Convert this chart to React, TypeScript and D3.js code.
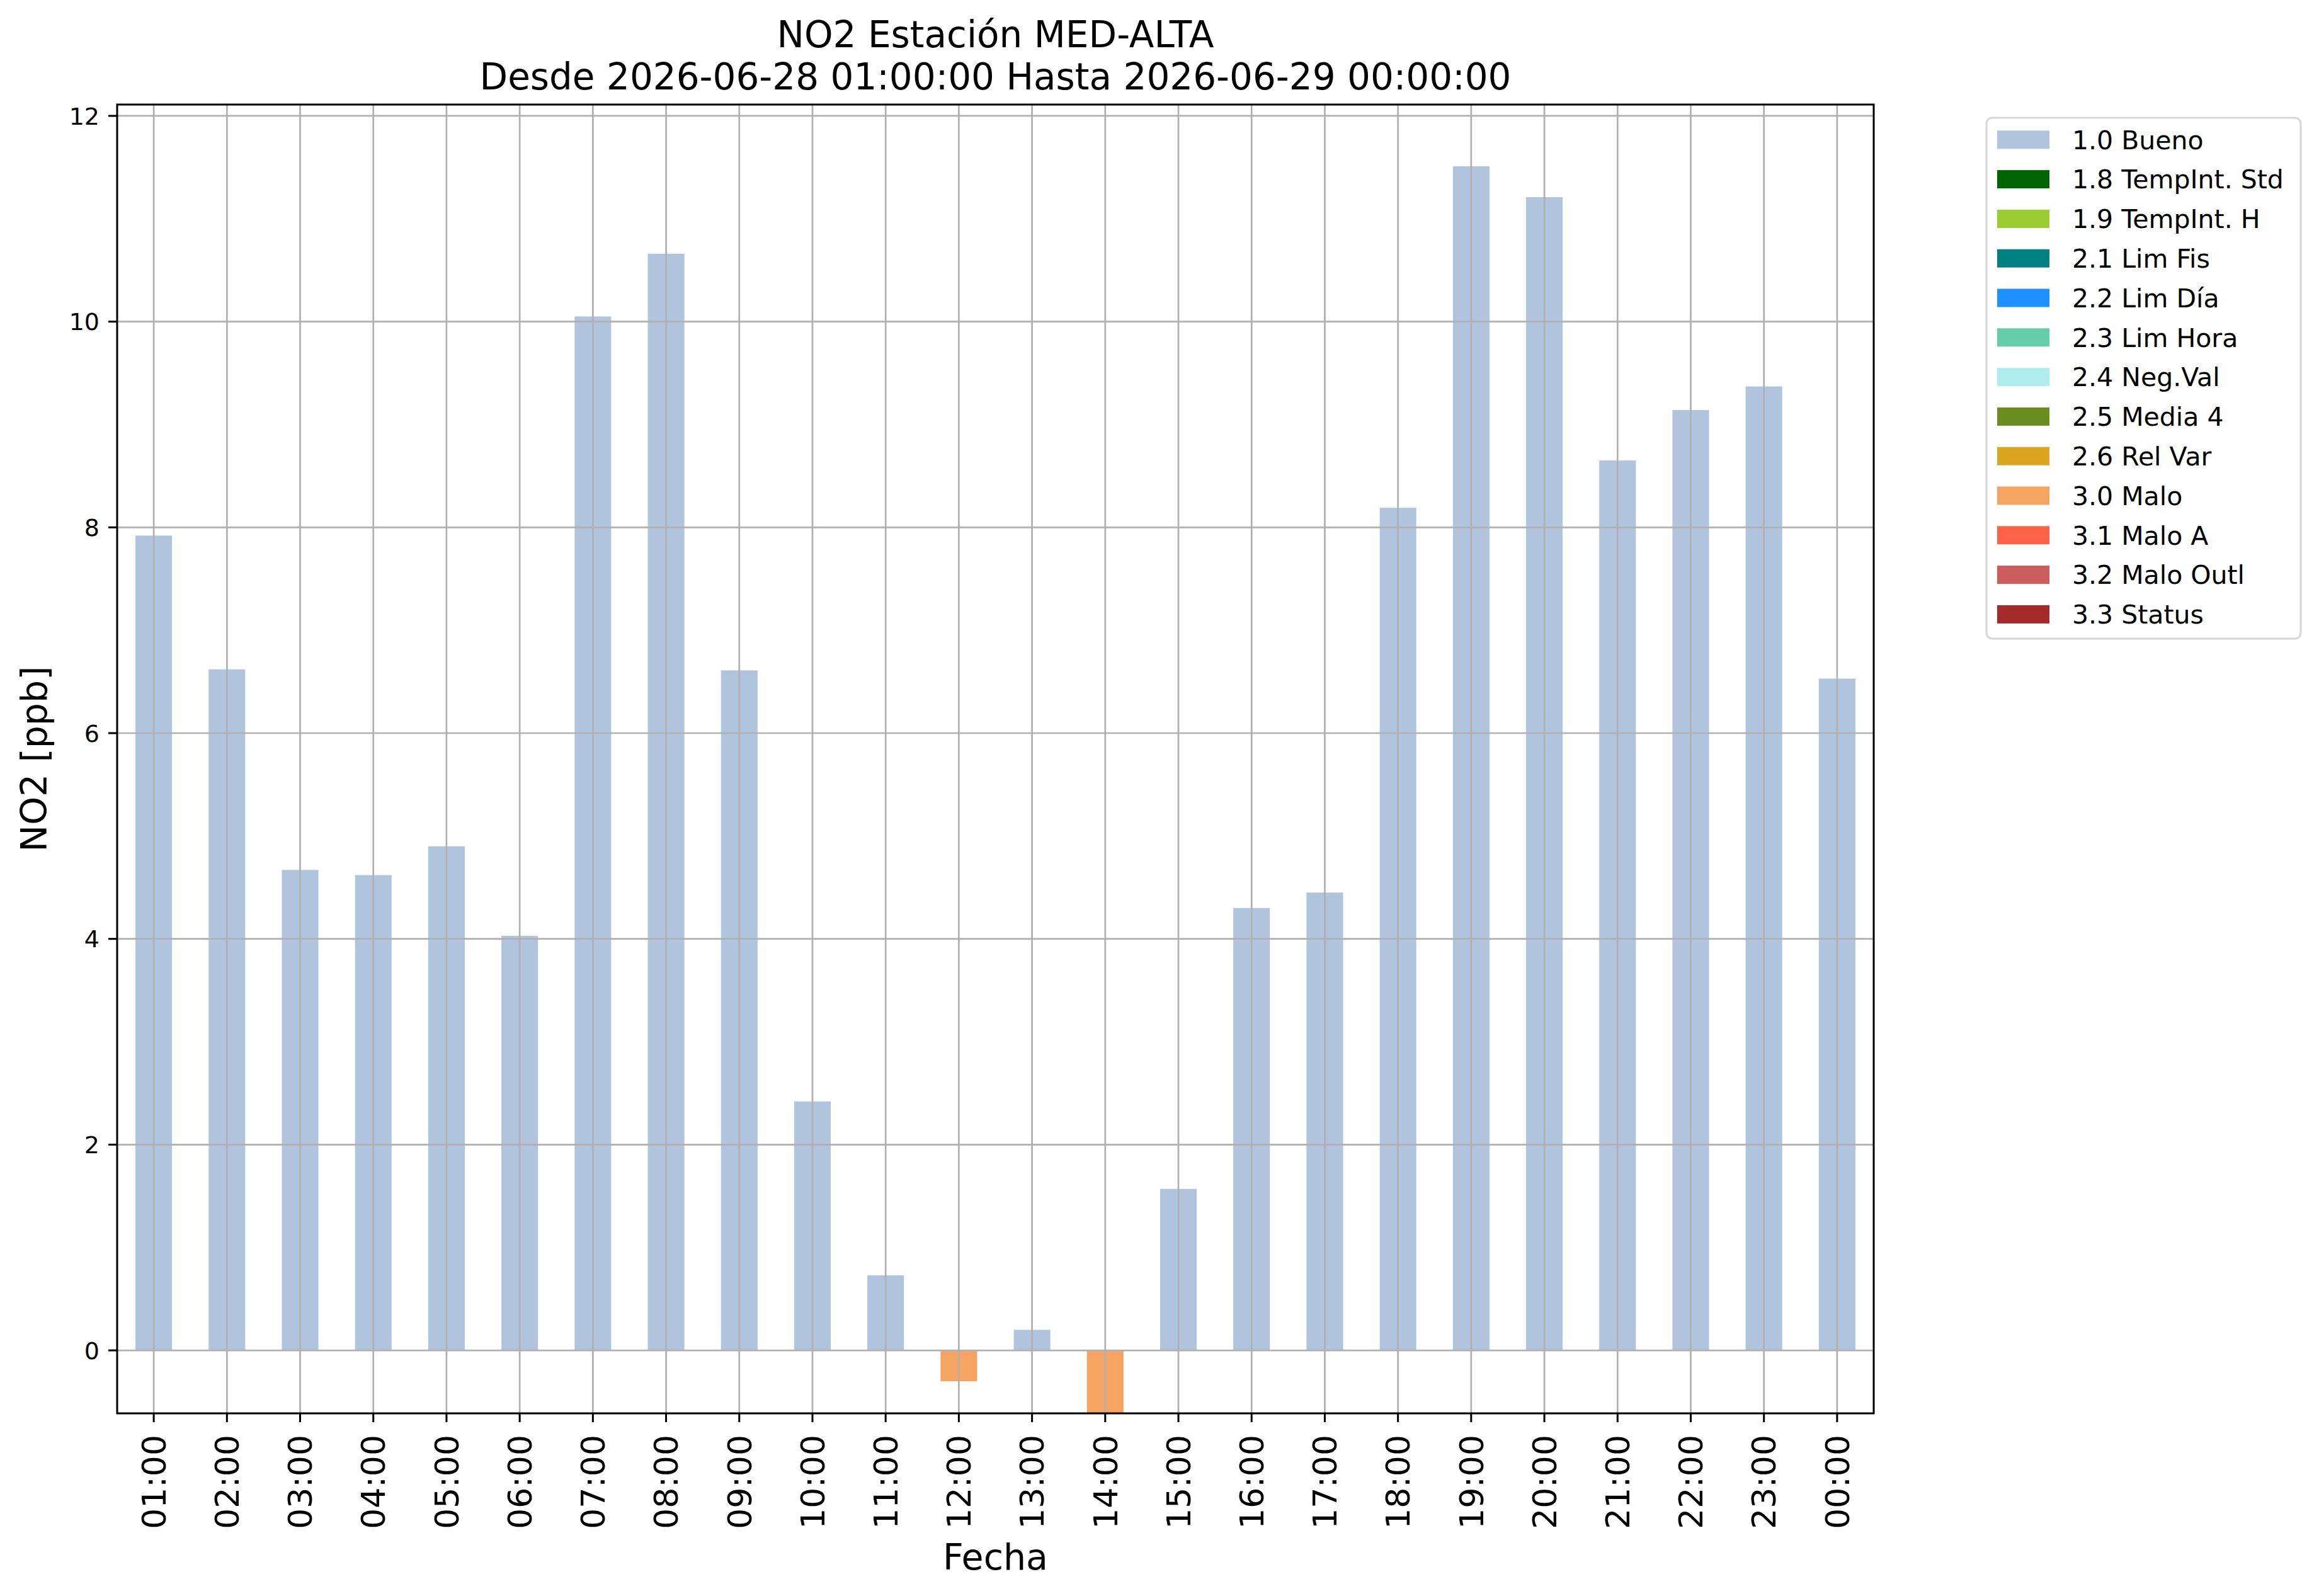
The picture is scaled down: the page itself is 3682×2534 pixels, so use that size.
import React, { useEffect, useRef } from 'react';
import * as d3 from 'd3';

// NO2 hourly readings, one per hour, with the quality flag of each reading
const hours = [
  "01:00", "02:00", "03:00", "04:00", "05:00", "06:00", "07:00", "08:00",
  "09:00", "10:00", "11:00", "12:00", "13:00", "14:00", "15:00", "16:00",
  "17:00", "18:00", "19:00", "20:00", "21:00", "22:00", "23:00", "00:00"
];
const no2 = [
  7.92, 6.62, 4.67, 4.62, 4.90, 4.03, 10.05, 10.66,
  6.61, 2.42, 0.73, -0.30, 0.20, -0.65, 1.57, 4.30,
  4.45, 8.19, 11.51, 11.21, 8.65, 9.14, 9.37, 6.53
];
const flags = [
  "1.0", "1.0", "1.0", "1.0", "1.0", "1.0", "1.0", "1.0",
  "1.0", "1.0", "1.0", "3.0", "1.0", "3.0", "1.0", "1.0",
  "1.0", "1.0", "1.0", "1.0", "1.0", "1.0", "1.0", "1.0"
];

const flagCodes = ["1.0", "1.8", "1.9", "2.1", "2.2", "2.3", "2.4", "2.5", "2.6", "3.0", "3.1", "3.2", "3.3"];
const flagNames = [
  "1.0 Bueno", "1.8 TempInt. Std", "1.9 TempInt. H", "2.1 Lim Fis", "2.2 Lim Día",
  "2.3 Lim Hora", "2.4 Neg.Val", "2.5 Media 4", "2.6 Rel Var", "3.0 Malo",
  "3.1 Malo A", "3.2 Malo Outl", "3.3 Status"
];
const flagColors = [
  "#b0c4de", "#006400", "#9acd32", "#008080", "#1e90ff", "#66cdaa",
  "#afeeee", "#6b8e23", "#daa520", "#f4a460", "#ff6347", "#cd5c5c", "#a52a2a"
];

const yTicks = [0, 2, 4, 6, 8, 10, 12];
const yLimits = [-0.612, 12.11];

const titleLines = ["NO2 Estación MED-ALTA", "Desde 2026-06-28 01:00:00 Hasta 2026-06-29 00:00:00"];

const App = () => {
  const ref = useRef(null);

  useEffect(() => {
    document.body.style.margin = '0';

    const width = 3682;
    const height = 2534;
    const left = 186, right = 2975, top = 166, bottom = 2244;
    const font = "'DejaVu Sans', sans-serif";

    const svg = d3.select(ref.current);
    svg.selectAll('*').remove();
    svg.attr('width', width).attr('height', height);

    svg.append('rect').attr('width', width).attr('height', height).attr('fill', 'white');

    const x = d3.scaleBand()
      .domain(hours)
      .range([left, right])
      .paddingInner(0.5)
      .paddingOuter(0.25);

    const y = d3.scaleLinear().domain(yLimits).range([bottom, top]);

    svg.append('clipPath').attr('id', 'plot-clip')
      .append('rect')
      .attr('x', left).attr('y', top)
      .attr('width', right - left).attr('height', bottom - top);

    // one group of bars per flag, like a stacked bar of flag columns
    const bars = svg.append('g').attr('clip-path', 'url(#plot-clip)');
    flagCodes.forEach((code, k) => {
      const idx = hours.map((_, i) => i).filter(i => flags[i] === code);
      bars.append('g')
        .attr('fill', flagColors[k])
        .selectAll('rect')
        .data(idx)
        .join('rect')
        .attr('x', i => x(hours[i]))
        .attr('width', x.bandwidth())
        .attr('y', i => y(Math.max(0, no2[i])))
        .attr('height', i => Math.abs(y(no2[i]) - y(0)));
    });

    // grid on top of the bars
    const grid = svg.append('g')
      .attr('stroke', '#b0b0b0')
      .attr('stroke-width', 2.7);
    grid.selectAll('line.v')
      .data(hours)
      .join('line')
      .attr('class', 'v')
      .attr('x1', d => x(d) + x.bandwidth() / 2)
      .attr('x2', d => x(d) + x.bandwidth() / 2)
      .attr('y1', top).attr('y2', bottom);
    grid.selectAll('line.h')
      .data(yTicks)
      .join('line')
      .attr('class', 'h')
      .attr('x1', left).attr('x2', right)
      .attr('y1', d => y(d)).attr('y2', d => y(d));

    // frame
    svg.append('rect')
      .attr('x', left).attr('y', top)
      .attr('width', right - left).attr('height', bottom - top)
      .attr('fill', 'none')
      .attr('stroke', 'black')
      .attr('stroke-width', 3);

    // y axis
    const yAxis = svg.append('g');
    yAxis.selectAll('line')
      .data(yTicks)
      .join('line')
      .attr('x1', left - 14).attr('x2', left)
      .attr('y1', d => y(d)).attr('y2', d => y(d))
      .attr('stroke', 'black').attr('stroke-width', 3);
    yAxis.selectAll('text')
      .data(yTicks)
      .join('text')
      .attr('x', left - 28)
      .attr('y', d => y(d))
      .attr('dy', '0.36em')
      .attr('text-anchor', 'end')
      .attr('font-family', font)
      .attr('font-size', 38)
      .text(d => d);

    // x axis
    const xAxis = svg.append('g');
    xAxis.selectAll('line')
      .data(hours)
      .join('line')
      .attr('x1', d => x(d) + x.bandwidth() / 2)
      .attr('x2', d => x(d) + x.bandwidth() / 2)
      .attr('y1', bottom).attr('y2', bottom + 14)
      .attr('stroke', 'black').attr('stroke-width', 3);
    xAxis.selectAll('text')
      .data(hours)
      .join('text')
      .attr('transform', d => `translate(${x(d) + x.bandwidth() / 2},${bottom + 34}) rotate(-90)`)
      .attr('dy', '0.36em')
      .attr('text-anchor', 'end')
      .attr('font-family', font)
      .attr('font-size', 52)
      .text(d => d);

    // labels and title
    const cx = (left + right) / 2;
    svg.append('text')
      .attr('x', cx).attr('y', 2492)
      .attr('text-anchor', 'middle')
      .attr('font-family', font)
      .attr('font-size', 57)
      .text('Fecha');
    svg.append('text')
      .attr('transform', `translate(74,${(top + bottom) / 2}) rotate(-90)`)
      .attr('text-anchor', 'middle')
      .attr('font-family', font)
      .attr('font-size', 57)
      .text('NO2 [ppb]');
    svg.append('g')
      .selectAll('text')
      .data(titleLines)
      .join('text')
      .attr('x', cx)
      .attr('y', (d, i) => 75 + i * 67)
      .attr('text-anchor', 'middle')
      .attr('font-family', font)
      .attr('font-size', 58)
      .text(d => d);

    // legend
    const legend = svg.append('g');
    legend.append('rect')
      .attr('x', 3154).attr('y', 187)
      .attr('width', 3653 - 3154).attr('height', 1014 - 187)
      .attr('rx', 9)
      .attr('fill', 'white')
      .attr('stroke', '#d6d6d6')
      .attr('stroke-width', 3);
    const item = legend.selectAll('g')
      .data(flagNames)
      .join('g')
      .attr('transform', (d, i) => `translate(0,${221.8 + i * 62.8})`);
    item.append('rect')
      .attr('x', 3171).attr('y', -14.5)
      .attr('width', 83).attr('height', 29)
      .attr('fill', (d, i) => flagColors[i]);
    item.append('text')
      .attr('x', 3290)
      .attr('dy', '0.36em')
      .attr('font-family', font)
      .attr('font-size', 41)
      .text(d => d);
  }, []);

  return <svg ref={ref} style={{ display: 'block' }}></svg>;
};

export default App;
